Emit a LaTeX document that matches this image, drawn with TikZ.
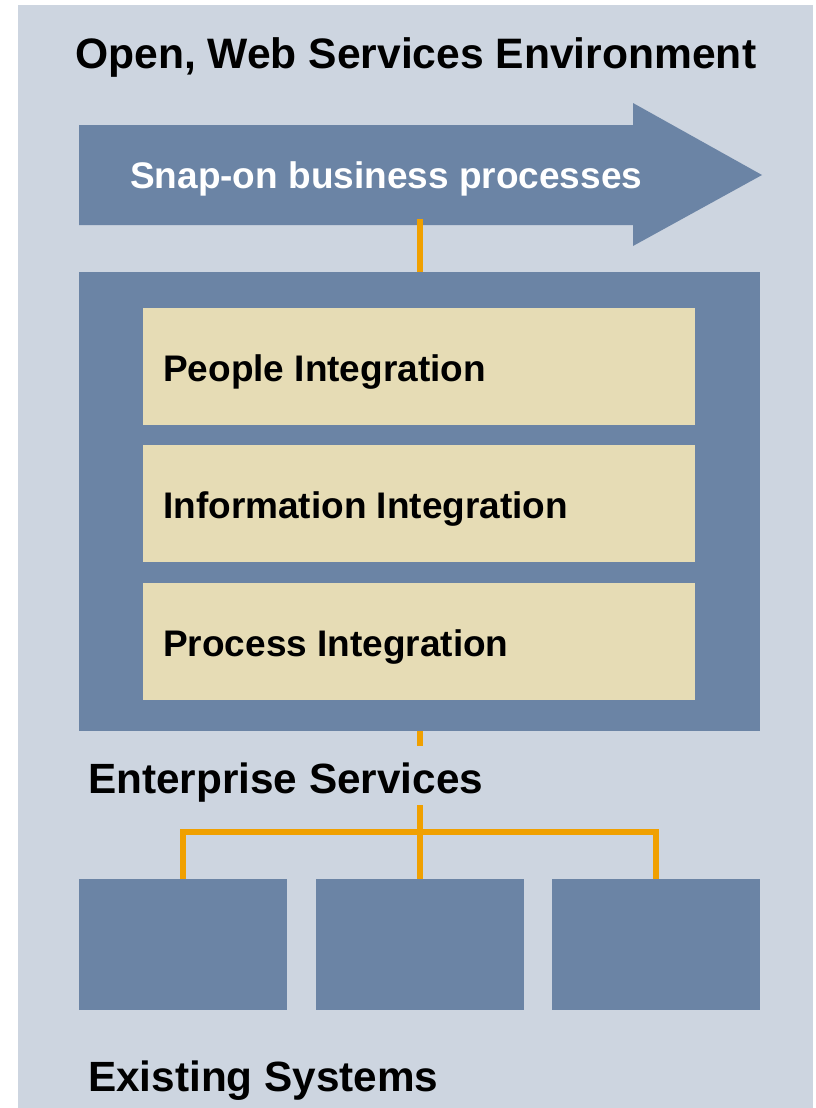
\documentclass[tikz,border=0pt]{standalone}
\usepackage{fontspec}
\setmainfont{Liberation Sans}
\definecolor{bgblue}{HTML}{CDD5E0}
\definecolor{boxblue}{HTML}{6B84A5}
\definecolor{beige}{HTML}{E6DCB5}
\definecolor{linkorange}{HTML}{F0A000}
\tikzset{
	bluebox/.style={rectangle, fill=boxblue, inner sep=0pt},
	layerbox/.style={rectangle, fill=beige, inner sep=0pt, minimum width=552pt, minimum height=117pt},
	sysbox/.style={rectangle, fill=boxblue, inner sep=0pt, minimum width=208pt, minimum height=131pt},
	link/.style={draw=linkorange, line width=6pt},
	lbl/.style={anchor=base west, inner sep=0pt, font=\bfseries}
}
\begin{document}
\begin{tikzpicture}[x=1pt,y=-1pt]
	\useasboundingbox (0,0) rectangle (816,1108);
	\fill[bgblue] (18,5) rectangle (813,1108);

	\node[lbl, font=\bfseries\fontsize{42.6}{50}\selectfont] (lblEnv) at (75,69) {Open, Web Services Environment};

	% process arrow
	\fill[boxblue] (79,125) -- (633,125) -- (633,103) -- (762,175) -- (633,246) -- (633,225) -- (79,225) -- cycle;
	\coordinate (arrowFoot) at (419.5,219);
	\node[lbl, text=white, font=\bfseries\fontsize{37}{44}\selectfont] (lblSnap) at (130,188) {Snap-on business processes};

	% integration layers
	\node[bluebox, minimum width=681pt, minimum height=459pt] (Frame) at (419.5,501.5) {};
	\node[layerbox] (People) at (419,366.5) {};
	\node[layerbox] (Info) at (419,503.5) {};
	\node[layerbox] (Process) at (419,641.5) {};
	\node[lbl, font=\bfseries\fontsize{37}{44}\selectfont] (lblPeople) at (163,381) {People Integration};
	\node[lbl, font=\bfseries\fontsize{37}{44}\selectfont] (lblInfo) at (163,518) {Information Integration};
	\node[lbl, font=\bfseries\fontsize{37}{44}\selectfont] (lblProcess) at (163,656) {Process Integration};

	\draw[link] (arrowFoot) -- (Frame.north);

	\node[lbl, font=\bfseries\fontsize{42.3}{50}\selectfont] (lblES) at (88,793) {Enterprise Services};
	\coordinate (esTop) at (419.5,746);
	\coordinate (esBottom) at (419.5,805);
	\coordinate (hub) at (419.5,832);
	\draw[link] (Frame.south) -- (esTop);

	% existing systems
	\node[sysbox] (SysA) at (183,944.5) {};
	\node[sysbox] (SysB) at (419.5,944.5) {};
	\node[sysbox] (SysC) at (655.5,944.5) {};
	\draw[link] (esBottom) -- (SysB.north);
	\draw[link] (SysA.north) |- (hub) -| (SysC.north);

	\node[lbl, font=\bfseries\fontsize{42.3}{50}\selectfont] (lblSys) at (88,1091) {Existing Systems};
\end{tikzpicture}
\end{document}
